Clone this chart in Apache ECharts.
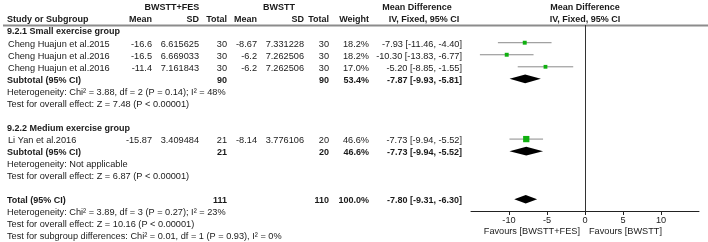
<!DOCTYPE html>
<html>
<head>
<meta charset="utf-8">
<script src="https://cdn.jsdelivr.net/npm/echarts@6/dist/echarts.min.js"></script>
<style>
  html, body { margin: 0; padding: 0; background: #fff; }
  #chart { width: 708px; height: 242px; }
</style>
</head>
<body>
<div id="chart"></div>
<script>
  // studies
  var studyNames = ['Cheng Huajun et al.2015', 'Cheng Huajun et al.2016', 'Cheng Huajun et al.2016', 'Li Yan et al.2016'];
  var studyRows = [2, 3, 4, 10];
  var expMean = [-16.6, -16.5, -11.4, -15.87];
  var expSD = ['6.615625', '6.669033', '7.161843', '3.409484'];
  var expN = [30, 30, 30, 21];
  var ctlMean = [-8.67, -6.2, -6.2, -8.14];
  var ctlSD = ['7.331228', '7.262506', '7.262506', '3.776106'];
  var ctlN = [30, 30, 30, 20];
  var weights = [18.2, 18.2, 17.0, 46.6];
  var md = [-7.93, -10.30, -5.20, -7.73];
  var mdLow = [-11.46, -13.83, -8.85, -9.94];
  var mdHigh = [-4.40, -6.77, -1.55, -5.52];

  // pooled (subtotals + total)
  var poolNames = ['Subtotal (95% CI)', 'Subtotal (95% CI)', 'Total (95% CI)'];
  var poolRows = [5, 11, 15];
  var poolExpN = [90, 21, 111];
  var poolCtlN = [90, 20, 110];
  var poolWeights = [53.4, 46.6, 100.0];
  var poolMd = [-7.87, -7.73, -7.80];
  var poolLow = [-9.93, -9.94, -9.31];
  var poolHigh = [-5.81, -5.52, -6.30];

  // group headings and notes
  var groupNames = ['9.2.1 Small exercise group', '9.2.2 Medium exercise group'];
  var groupRows = [1, 9];
  var noteLines = [
    'Heterogeneity: Chi\u00b2 = 3.88, df = 2 (P = 0.14); I\u00b2 = 48%',
    'Test for overall effect: Z = 7.48 (P < 0.00001)',
    'Heterogeneity: Not applicable',
    'Test for overall effect: Z = 6.87 (P < 0.00001)',
    'Heterogeneity: Chi\u00b2 = 3.89, df = 3 (P = 0.27); I\u00b2 = 23%',
    'Test for overall effect: Z = 10.16 (P < 0.00001)',
    'Test for subgroup differences: Chi\u00b2 = 0.01, df = 1 (P = 0.93), I\u00b2 = 0%'
  ];
  var noteRows = [6, 7, 12, 13, 16, 17, 18];

  var xTicks = [-10, -5, 0, 5, 10];

  var FONT = '9.2px "Liberation Sans", Arial, sans-serif';
  var BOLD = 'bold 9px "Liberation Sans", Arial, sans-serif';
  var TXT = '#1a1a1a';

  var chart = echarts.init(document.getElementById('chart'));

  var studyData = [];
  for (var i = 0; i < md.length; i++) {
    studyData.push([md[i], mdLow[i], mdHigh[i], studyRows[i], weights[i]]);
  }
  var poolData = [];
  for (var j = 0; j < poolMd.length; j++) {
    poolData.push([poolMd[j], poolLow[j], poolHigh[j], poolRows[j]]);
  }

  chart.setOption({
    backgroundColor: '#fff',
    animation: false,
    grid: { left: 471, right: 9, top: 25, bottom: 31 },
    xAxis: {
      type: 'value',
      min: -15,
      max: 15,
      interval: 5,
      splitLine: { show: false },
      axisLine: { onZero: false, lineStyle: { color: '#222', width: 1 } },
      axisTick: { customValues: xTicks, length: 4, lineStyle: { color: '#222' } },
      axisLabel: { customValues: xTicks, fontSize: 9.2, color: TXT, margin: 5, fontFamily: 'Liberation Sans' }
    },
    yAxis: {
      type: 'value',
      inverse: true,
      min: 0.53,
      max: 15.97,
      show: false
    },
    series: [{
      type: 'custom',
      data: studyData,
      encode: { x: [0, 1, 2], y: 3 },
      renderItem: function (params, api) {
        var k = api.value(3);
        var a = api.coord([api.value(1), k]);
        var b = api.coord([api.value(2), k]);
        var c = api.coord([api.value(0), k]);
        var s = Math.sqrt(api.value(4)) * 0.92;
        return {
          type: 'group',
          children: [{
            type: 'line',
            shape: { x1: a[0], y1: a[1], x2: b[0], y2: b[1] },
            style: { stroke: '#8a8a8a', lineWidth: 1 }
          }, {
            type: 'rect',
            shape: { x: c[0] - s / 2, y: c[1] - s / 2, width: s, height: s },
            style: { fill: '#10b010' }
          }]
        };
      },
      markLine: {
        silent: true,
        symbol: 'none',
        label: { show: false },
        lineStyle: { color: '#333', width: 1, type: 'solid' },
        data: [{ xAxis: 0 }]
      }
    }, {
      type: 'custom',
      data: poolData,
      encode: { x: [0, 1, 2], y: 3 },
      renderItem: function (params, api) {
        var k = api.value(3);
        var a = api.coord([api.value(1), k]);
        var b = api.coord([api.value(2), k]);
        var c = api.coord([api.value(0), k]);
        var h = 4.3;
        return {
          type: 'polygon',
          shape: { points: [[a[0], a[1]], [c[0], c[1] - h], [b[0], b[1]], [c[0], c[1] + h]] },
          style: { fill: '#000' }
        };
      }
    }]
  });

  // table text, rows placed through the same y scale as the plot
  function rowY(k) {
    return chart.convertToPixel({ yAxisIndex: 0 }, k) + 1.3;
  }
  function txt(s, x, y, align, bold) {
    return {
      type: 'text', x: x, y: y, silent: true,
      style: { text: s, font: bold ? BOLD : FONT, fill: TXT, align: align, verticalAlign: 'middle' }
    };
  }
  function ci(m, lo, hi) {
    return m.toFixed(2) + ' [' + lo.toFixed(2) + ', ' + hi.toFixed(2) + ']';
  }

  var g = [];
  // header rule
  g.push({ type: 'line', silent: true, shape: { x1: 3, y1: 25.5, x2: 708, y2: 25.5 }, style: { stroke: '#8c8c8c', lineWidth: 2 } });

  var h1 = rowY(-1), h0 = rowY(0);
  g.push(txt('BWSTT+FES', 172, h1, 'center', true));
  g.push(txt('BWSTT', 279, h1, 'center', true));
  g.push(txt('Mean Difference', 417, h1, 'center', true));
  g.push(txt('Mean Difference', 585, h1, 'center', true));
  g.push(txt('Study or Subgroup', 7, h0, 'left', true));
  g.push(txt('Mean', 152, h0, 'right', true));
  g.push(txt('SD', 199, h0, 'right', true));
  g.push(txt('Total', 227, h0, 'right', true));
  g.push(txt('Mean', 257, h0, 'right', true));
  g.push(txt('SD', 304, h0, 'right', true));
  g.push(txt('Total', 329, h0, 'right', true));
  g.push(txt('Weight', 369, h0, 'right', true));
  g.push(txt('IV, Fixed, 95% CI', 424, h0, 'center', true));
  g.push(txt('IV, Fixed, 95% CI', 585, h0, 'center', true));

  for (var a = 0; a < groupNames.length; a++) {
    g.push(txt(groupNames[a], 7, rowY(groupRows[a]), 'left', true));
  }
  for (var i2 = 0; i2 < studyNames.length; i2++) {
    var y = rowY(studyRows[i2]);
    g.push(txt(studyNames[i2], 8, y, 'left', false));
    g.push(txt(String(expMean[i2]), 152, y, 'right', false));
    g.push(txt(expSD[i2], 199, y, 'right', false));
    g.push(txt(String(expN[i2]), 227, y, 'right', false));
    g.push(txt(String(ctlMean[i2]), 257, y, 'right', false));
    g.push(txt(ctlSD[i2], 304, y, 'right', false));
    g.push(txt(String(ctlN[i2]), 329, y, 'right', false));
    g.push(txt(weights[i2].toFixed(1) + '%', 369, y, 'right', false));
    g.push(txt(ci(md[i2], mdLow[i2], mdHigh[i2]), 462, y, 'right', false));
  }
  for (var p = 0; p < poolNames.length; p++) {
    var yp = rowY(poolRows[p]);
    g.push(txt(poolNames[p], 7, yp, 'left', true));
    g.push(txt(String(poolExpN[p]), 227, yp, 'right', true));
    g.push(txt(String(poolCtlN[p]), 329, yp, 'right', true));
    g.push(txt(poolWeights[p].toFixed(1) + '%', 369, yp, 'right', true));
    g.push(txt(ci(poolMd[p], poolLow[p], poolHigh[p]), 462, yp, 'right', true));
  }
  for (var n = 0; n < noteLines.length; n++) {
    g.push(txt(noteLines[n], 7, rowY(noteRows[n]), 'left', false));
  }
  g.push(txt('Favours [BWSTT+FES]', 580, 231, 'right', false));
  g.push(txt('Favours [BWSTT]', 589, 231, 'left', false));

  chart.setOption({ graphic: { elements: g } });
</script>
</body>
</html>
